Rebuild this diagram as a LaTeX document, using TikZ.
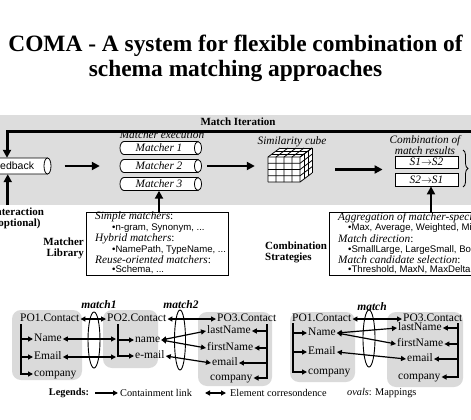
\documentclass[tikz,border=0pt]{standalone}
\usepackage{fontspec}
\setmainfont{Liberation Serif}
\setsansfont{Liberation Sans}
\usetikzlibrary{arrows.meta,shapes.geometric,decorations.pathreplacing,calc}
\definecolor{bandgray}{RGB}{221,221,221}
\definecolor{regiongray}{RGB}{218,218,218}
\newcommand{\fs}[1]{\fontsize{#1}{#1}\selectfont}
\newcommand{\hcyl}[4]{%
  \filldraw[fill=white,line width=0.8pt] (#2,#3-#4) -- (#1+4,#3-#4) arc[start angle=90,end angle=270,x radius=4pt,y radius=#4 pt] -- (#2,#3+#4) -- cycle;
  \filldraw[fill=white,line width=0.8pt] (#2,#3) ellipse[x radius=3.5pt,y radius=#4 pt];
}
\begin{document}
\begin{tikzpicture}[x=1pt,y=-1pt,
  flow/.style={line width=2.6pt,-{Triangle[length=8pt,width=8pt]}},
  loopline/.style={line width=3pt,-{Triangle[length=8pt,width=8pt]}},
  bx/.style={line width=0.8pt},
  tarrow/.style={line width=1.4pt,-{Triangle[length=5pt,width=5pt]}},
  corr/.style={line width=1.2pt,{Triangle[length=5pt,width=5pt]}-{Triangle[length=5pt,width=5pt]}},
  region/.style={fill=regiongray,rounded corners=9pt},
  tn/.style={inner sep=1pt,anchor=west,font=\fs{11.5},text height=7.5pt,text depth=2pt},
  ml/.style={inner sep=0,font=\fs{11.5}\bfseries\itshape},
  oval/.style={ellipse,draw,line width=0.9pt,inner sep=0},
  head/.style={inner sep=0,anchor=west,font=\fs{11.3}\itshape},
  bul/.style={inner sep=0,anchor=west,font=\fs{9.6}\sffamily},
  blbl/.style={inner sep=0,font=\fontsize{11}{11}\selectfont\bfseries},
]
\useasboundingbox (0,0) rectangle (471,420);
\fill[white] (0,0) rectangle (471,420);

% title
\node[inner sep=0,anchor=base,font=\fs{23.4}\bfseries] (title1) at (235.5,52) {COMA - A system for flexible combination of};
\node[inner sep=0,anchor=base,font=\fs{23.4}\bfseries] (title2) at (235.5,77) {schema matching approaches};

% band
\fill[bandgray] (0,115) rectangle (471,205);
\node[blbl] (mi) at (238,122) {Match Iteration};

% feedback
\hcyl{-14}{47.5}{166}{8}
\node[inner sep=0,minimum width=61.5pt,minimum height=16pt] (fb) at (16.75,166) {};
\node[inner sep=0,font=\fs{10.5}\sffamily] (fbt) at (11,166) {Feedback};
\draw[loopline] (475,131) -| ([xshift=-9.75pt]fb.north);
\draw[flow] ([xshift=-9pt,yshift=-31pt]fb.south) -- ([xshift=-9pt]fb.south);
\node[blbl,align=center] (inter) at (17.7,218.5) {Interaction\\(optional)};

% matchers
\node[inner sep=0,font=\fs{11.3}\itshape] (mexec) at (162,135) {Matcher execution};
\hcyl{120}{198}{148}{6.5}
\hcyl{120}{198}{166}{6.5}
\hcyl{120}{198}{184}{6.5}
\node[inner sep=0,minimum width=78pt,minimum height=13pt,font=\fs{11.3}\itshape] (m1) at (159,148) {Matcher 1};
\node[inner sep=0,minimum width=78pt,minimum height=13pt,font=\fs{11.3}\itshape] (m2) at (159,166) {Matcher 2};
\node[inner sep=0,minimum width=78pt,minimum height=13pt,font=\fs{11.3}\itshape] (m3) at (159,184) {Matcher 3};
\draw[flow,shorten <=17pt,shorten >=20pt] (fb.east) -- (fb.east -| m2.west);

% cube
\fill[white] (268,157) rectangle (300,182);
\fill[white] (268,157) -- (280,148) -- (312,148) -- (300,157) -- cycle;
\fill[white] (300,157) -- (312,148) -- (312,173) -- (300,182) -- cycle;
\foreach \i in {0,...,4} {
  \draw[bx] (268+8*\i,182) -- (268+8*\i,157) -- (280+8*\i,148);
  \draw[bx] (268,157+6.25*\i) -- (300,157+6.25*\i) -- (312,148+6.25*\i);
}
\foreach \j in {1,2,3} {
  \draw[bx] (268+4*\j,157-3*\j) -- (300+4*\j,157-3*\j) -- (300+4*\j,182-3*\j);
}
\node[inner sep=0,minimum width=32pt,minimum height=25pt] (cube) at (284,169.5) {};
\node[inner sep=0,font=\fs{11.3}\itshape] (simc) at (292,142) {Similarity cube};
\draw[flow,shorten <=9pt,shorten >=13pt] (m2.east) -- (m2.east -| cube.west);

% combination
\node[inner sep=0,align=center,font=\fontsize{11.3}{11}\selectfont\itshape] (combl) at (425,145) {Combination of\\match results};
\node[draw,bx,fill=white,minimum width=63pt,minimum height=12pt,inner sep=0,font=\fs{11.3}\itshape] (s12) at (426.5,162) {S1$\rightarrow$S2};
\node[draw,bx,fill=white,minimum width=63pt,minimum height=13pt,inner sep=0,font=\fs{11.3}\itshape] (s21) at (426.5,179.5) {S2$\rightarrow$S1};
\draw[decorate,decoration={brace,amplitude=5pt},bx] (463,150) -- (463,187);
\draw[flow,shorten <=35pt,shorten >=12pt] (cube.east) -- (cube.east -| s12.west);

% matcher library
\node[draw,bx,minimum width=142pt,minimum height=63pt,inner sep=0] (mlib) at (157,243.5) {};
\node[head] (h1) at (95,217) {Simple matchers\upshape:};
\node[bul] (b1) at (112,228) {•n-gram, Synonym, ...};
\node[head] (h2) at (95,239) {Hybrid matchers\upshape:};
\node[bul] (b2) at (112,250) {•NamePath, TypeName, ...};
\node[head] (h3) at (95,260) {Reuse-oriented matchers\upshape:};
\node[bul] (b3) at (112,270) {•Schema, ...};
\node[blbl,align=right,anchor=east] (mliblbl) at (84,248) {Matcher\\Library};
\draw[flow] (mlib.north -| m3.south) -- (m3.south);

% combination strategies
\node[draw,bx,minimum width=151pt,minimum height=63pt,inner sep=0] (csbox) at (404.5,243.5) {};
\node[head] (c1) at (338,218) {Aggregation of matcher-specific results\upshape:};
\node[bul] (cb1) at (348,228) {•Max, Average, Weighted, Min};
\node[head] (c2) at (338,239) {Match direction\upshape:};
\node[bul] (cb2) at (348,250) {•SmallLarge, LargeSmall, Both};
\node[head] (c3) at (338,260) {Match candidate selection\upshape:};
\node[bul] (cb3) at (348,270) {•Threshold, MaxN, MaxDelta};
\node[blbl,align=left,anchor=west] (cslbl) at (265,252) {Combination\\Strategies};
\coordinate (s21in) at ($(s21.south)+(4.5,0)$);
\draw[flow] (s21in |- csbox.north) -- (s21in);

% ---------- bottom: match1 / match2 ----------
\fill[region] (12,310) rectangle (82,380);
\fill[region] (103,310) rectangle (158,368);
\fill[region] (198,312) rectangle (272,386);
\node[tn] (p1c) at (19,319) {PO1.Contact};
\node[tn] (p1n) at (33,339) {Name};
\node[tn] (p1e) at (33,357) {Email};
\node[tn] (p1co) at (33,374) {company};
\coordinate (t1) at (21,324);
\draw[tarrow] (t1) |- (p1co.west);
\draw[tarrow] (t1 |- p1n.west) -- (p1n.west);
\draw[tarrow] (t1 |- p1e.west) -- (p1e.west);

\node[tn] (p2c) at (106,319) {PO2.Contact};
\node[tn] (p2n) at (134,340) {name};
\node[tn] (p2e) at (134,356) {e-mail};
\coordinate (t2) at (118,324);
\draw[tarrow] (t2) |- (p2e.west);
\draw[tarrow] (t2 |- p2n.west) -- (p2n.west);

\node[tn] (p3c) at (216,319) {PO3.Contact};
\node[tn] (p3l) at (206,331) {lastName};
\node[tn] (p3f) at (206,348) {firstName};
\node[tn] (p3e) at (211,363) {email};
\node[tn] (p3co) at (209,378) {company};
\coordinate (t3) at (267,324);
\draw[tarrow] (t3) |- (p3co.east);
\draw[tarrow] (t3 |- p3l.east) -- (p3l.east);
\draw[tarrow] (t3 |- p3f.east) -- (p3f.east);
\draw[tarrow] (t3 |- p3e.east) -- (p3e.east);

\node[oval,minimum width=12pt,minimum height=56pt] (o1) at (94,340) {};
\node[ml] (ml1) at (99,305) {match1};
\node[oval,minimum width=11pt,minimum height=60pt] (o2) at (180,340) {};
\node[ml] (ml2) at (181,305) {match2};

\draw[corr] (p1c.east) -- (p2c.west);
\draw[corr,shorten >=18pt] (p1n.east) -- (p1n.east -| p2n.west);
\draw[corr,shorten >=18pt] (p1e.east) -- (p1e.east -| p2e.west);
\draw[corr] (p2c.east) -- (p3c.west);
\draw[corr] (p2n.east) -- (p3l.west);
\draw[corr] (p2n.east) -- (p3f.west);
\draw[corr] (p2e.east) -- (p3e.west);

% ---------- bottom: match ----------
\fill[region] (290,312) rectangle (355,382);
\fill[region] (387,312) rectangle (463,387);
\node[tn] (q1c) at (291,319) {PO1.Contact};
\node[tn] (q1n) at (307,333) {Name};
\node[tn] (q1e) at (307,352) {Email};
\node[tn] (q1co) at (307,372) {company};
\coordinate (t4) at (293,323);
\draw[tarrow] (t4) |- (q1co.west);
\draw[tarrow] (t4 |- q1n.west) -- (q1n.west);
\draw[tarrow] (t4 |- q1e.west) -- (q1e.west);

\node[tn] (q3c) at (402,319) {PO3.Contact};
\node[tn] (q3l) at (397,328) {lastName};
\node[tn] (q3f) at (396,344) {firstName};
\node[tn] (q3e) at (406,359) {email};
\node[tn] (q3co) at (397,377) {company};
\coordinate (t5) at (458,323);
\draw[tarrow] (t5) |- (q3co.east);
\draw[tarrow] (t5 |- q3l.east) -- (q3l.east);
\draw[tarrow] (t5 |- q3f.east) -- (q3f.east);
\draw[tarrow] (t5 |- q3e.east) -- (q3e.east);

\node[oval,minimum width=12pt,minimum height=57pt] (o3) at (369,338.5) {};
\node[ml] (ml3) at (372,307) {match};
\draw[corr] (q1c.east) -- (q3c.west);
\draw[corr] (q1n.east) -- (q3l.west);
\draw[corr] (q1n.east) -- (q3f.west);
\draw[corr] (q1e.east) -- (q3e.west);

% legend
\node[inner sep=0,font=\fs{10.3}\bfseries] (lg) at (69,393) {Legends:};
\node[inner sep=0,anchor=west,font=\fs{10.3}] (lgc) at (120,393) {Containment link};
\draw[tarrow] ([xshift=-25pt]lgc.west) -- ([xshift=-2pt]lgc.west);
\node[inner sep=0,anchor=west,font=\fs{10.3}] (lge) at (230,393) {Element corresondence};
\draw[corr] ([xshift=-25pt]lge.west) -- ([xshift=-4pt]lge.west);
\node[inner sep=0,anchor=west,font=\fs{10.3}] (lgo) at (347,393) {\textit{ovals}: Mappings};
\end{tikzpicture}
\end{document}
